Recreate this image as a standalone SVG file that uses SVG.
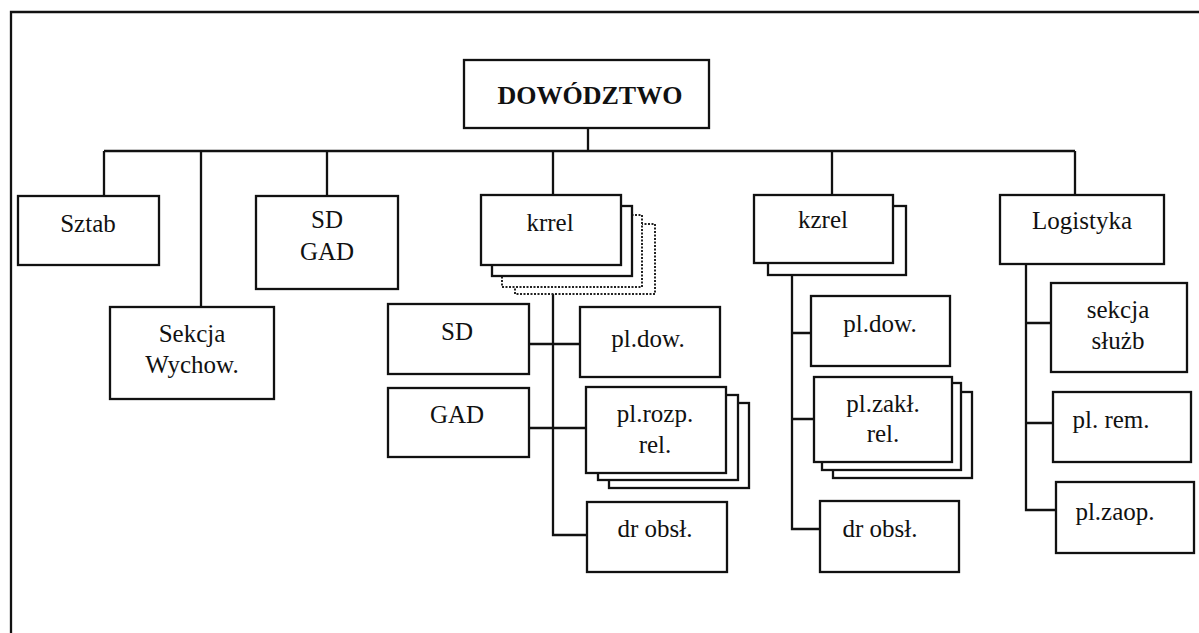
<svg xmlns="http://www.w3.org/2000/svg" width="1199" height="633" viewBox="0 0 1199 633">
<style>
.b{fill:#fff;stroke:#111;stroke-width:2.3}
.d{fill:#fff;stroke:#222;stroke-width:2;stroke-dasharray:2 1.5}
.c{fill:none;stroke:#111;stroke-width:2.3}
text{font-family:'Liberation Serif','Times New Roman',serif;font-size:25px;fill:#111;text-anchor:middle}
.t{font-weight:bold;font-size:26px}
</style>
<rect width="1199" height="633" fill="#fff"/>
<path class="c" d="M11,633 V12 H1199"/>
<g id="connectors">
<path class="c" d="M588,128 V151 M104,151 H1075 M104,151 V196 M201,151 V307 M327,151 V196 M553,151 V195 M832,151 V195 M1075,151 V195"/>
<path class="c" d="M553,294 V535 H587 M529,344 H580 M529,428 H586"/>
<path class="c" d="M792,275 V529 H820 M792,333 H811 M792,419 H814"/>
<path class="c" d="M1026,264 V510 H1056 M1026,323 H1051 M1026,423 H1053"/>
</g>
<g id="dowodztwo"><rect class="b" x="464" y="60" width="245" height="68"/><text class="t" x="590" y="104">DOWÓDZTWO</text></g>
<g id="sztab"><rect class="b" x="18" y="196" width="141" height="69"/><text x="88" y="232">Sztab</text></g>
<g id="sekcja-wychow"><rect class="b" x="110" y="307" width="164" height="92"/><text x="192" y="342">Sekcja</text><text x="192" y="373">Wychow.</text></g>
<g id="sd-gad"><rect class="b" x="256" y="196" width="142" height="93"/><text x="327" y="228">SD</text><text x="327" y="260">GAD</text></g>
<g id="krrel">
<rect class="d" x="515" y="224" width="140" height="70"/>
<rect class="d" x="502" y="215" width="140" height="72"/>
<rect class="b" x="492" y="206" width="140" height="70"/>
<rect class="b" x="481" y="195" width="140" height="70"/>
<text x="550" y="231">krrel</text></g>
<g id="krrel-sd"><rect class="b" x="388" y="304" width="141" height="70"/><text x="457" y="340">SD</text></g>
<g id="krrel-pldow"><rect class="b" x="580" y="307" width="140" height="70"/><text x="648" y="347">pl.dow.</text></g>
<g id="krrel-gad"><rect class="b" x="388" y="388" width="141" height="69"/><text x="457" y="423">GAD</text></g>
<g id="krrel-plrozp">
<rect class="b" x="609" y="403" width="140" height="85"/>
<rect class="b" x="598" y="395" width="140" height="85"/>
<rect class="b" x="586" y="387" width="140" height="86"/>
<text x="655" y="422">pl.rozp.</text><text x="655" y="453">rel.</text></g>
<g id="krrel-drobsl"><rect class="b" x="587" y="502" width="140" height="70"/><text x="655" y="537">dr obsł.</text></g>
<g id="kzrel">
<rect class="b" x="768" y="206" width="138" height="69"/>
<rect class="b" x="754" y="195" width="139" height="68"/>
<text x="823" y="228">kzrel</text></g>
<g id="kzrel-pldow"><rect class="b" x="811" y="296" width="139" height="70"/><text x="880" y="332">pl.dow.</text></g>
<g id="kzrel-plzakl">
<rect class="b" x="833" y="392" width="139" height="86"/>
<rect class="b" x="822" y="383" width="139" height="87"/>
<rect class="b" x="814" y="377" width="138" height="85"/>
<text x="883" y="412">pl.zakł.</text><text x="883" y="442">rel.</text></g>
<g id="kzrel-drobsl"><rect class="b" x="820" y="501" width="139" height="71"/><text x="880" y="537">dr obsł.</text></g>
<g id="logistyka"><rect class="b" x="1000" y="195" width="164" height="69"/><text x="1082" y="229">Logistyka</text></g>
<g id="sekcja-sluzb"><rect class="b" x="1051" y="283" width="136" height="89"/><text x="1118" y="318">sekcja</text><text x="1118" y="349">służb</text></g>
<g id="pl-rem"><rect class="b" x="1053" y="392" width="138" height="70"/><text x="1111" y="428">pl. rem.</text></g>
<g id="pl-zaop"><rect class="b" x="1056" y="482" width="138" height="71"/><text x="1115" y="520">pl.zaop.</text></g>
</svg>
